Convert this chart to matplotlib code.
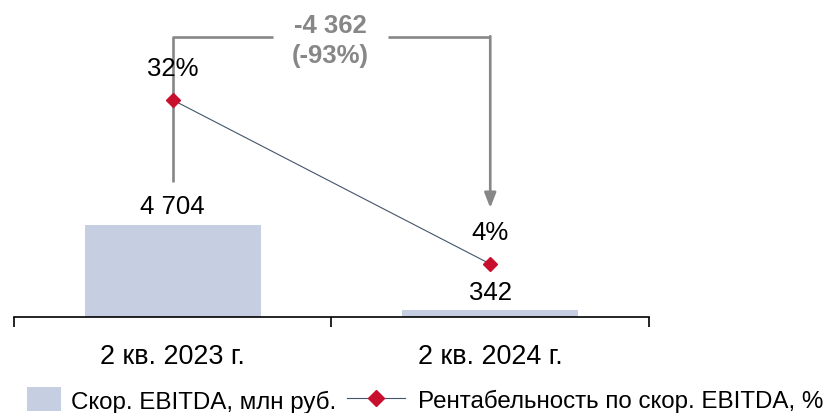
import matplotlib
matplotlib.use("Agg")
import matplotlib.pyplot as plt
import matplotlib.transforms as mtransforms
from matplotlib.patches import Patch
from matplotlib.lines import Line2D

plt.rcParams["font.family"] = ["Liberation Sans", "DejaVu Sans"]

# data
categories = ["2 кв. 2023 г.", "2 кв. 2024 г."]
ebitda = [4704, 342]          # млн руб.
margin = [32, 4]              # %
bar_label = "Скор. EBITDA, млн руб."
line_label = "Рентабельность по скор. EBITDA, %"

BAR_COLOR = "#C5CFE1"
LINE_COLOR = "#44546A"
MARK_COLOR = "#C8102E"
GRAY = "#878787"
FS = 18.5
FS_TICK = 19.4
FS_LEG = 17.4


def fmt_num(v):
  return f"{v:,}".replace(",", " ")


fig = plt.figure(figsize=(8.28, 4.14), dpi=100)
ax = fig.add_axes([14 / 828, 1 - 318 / 414, (649 - 14) / 828, 318 / 414])
x = list(range(len(categories)))

ax.bar(x, ebitda, width=0.555, color=BAR_COLOR, zorder=1)
ax.set_xlim(-0.5, len(categories) - 0.5)
ax.set_ylim(0, 16260)
for side in ("top", "right", "left"):
  ax.spines[side].set_visible(False)
ax.spines["bottom"].set_linewidth(1.2)
ax.set_yticks([])
ax.set_xticks(x)
ax.set_xticklabels(categories, fontsize=FS_TICK)
ax.tick_params(axis="x", which="major", length=0, pad=19)
ax.set_xticks([i - 0.5 for i in range(len(categories) + 1)], minor=True)
ax.tick_params(axis="x", which="minor", length=7, width=1.2, direction="out")

for xi, v in zip(x, ebitda):
  ax.annotate(fmt_num(v), (xi, v), xytext=(0, 13.5), textcoords="offset points",
              ha="center", va="center", fontsize=FS)

ax2 = ax.twinx()
ax2.set_ylim(-5.05, 49.24)
ax2.axis("off")
ax2.plot(x, margin, color=LINE_COLOR, lw=0.8, marker="D", markersize=7,
         markerfacecolor=MARK_COLOR, markeredgecolor=MARK_COLOR, zorder=3)
for xi, v in zip(x, margin):
  ax2.annotate(f"{v}%", (xi, v), xytext=(0, 23), textcoords="offset points",
               ha="center", va="center", fontsize=FS)

# change bracket between the two periods
trans = mtransforms.blended_transform_factory(ax.transData, ax.transAxes)
y_top = 0.88
diff = ebitda[1] - ebitda[0]
pct = round(diff / ebitda[0] * 100)
ax.plot([x[0], x[0], 0.316], [0.4245, y_top, y_top], transform=trans,
        color=GRAY, lw=1.9, clip_on=False, solid_capstyle="butt", zorder=2)
ax.plot([0.678, x[1]], [y_top, y_top], transform=trans,
        color=GRAY, lw=1.9, clip_on=False, solid_capstyle="butt", zorder=2)
ax.annotate("", xy=(x[1], 0.343), xytext=(x[1], y_top + 0.003),
            xycoords=trans, textcoords=trans,
            arrowprops=dict(arrowstyle="-|>,head_length=0.9,head_width=0.35",
                            color=GRAY, lw=1.9, shrinkA=0, shrinkB=0))
ax.text(0.497, 0.872, f"{fmt_num(diff)}\n({pct}%)",
        transform=trans, ha="center", va="center", fontsize=FS,
        fontweight="bold", color=GRAY, linespacing=1.3)

# legend: two pieces so the square and the line handle can differ in length
leg_y = 1 - 401 / 414
leg1 = fig.legend([Patch(facecolor=BAR_COLOR, edgecolor="none")], [bar_label],
                  loc="center left", bbox_to_anchor=(27 / 828, leg_y),
                  frameon=False, fontsize=FS_LEG, handlelength=1.4,
                  handleheight=1.15, handletextpad=0.41, borderpad=0,
                  borderaxespad=0)
line_handle = Line2D([0], [0], color=LINE_COLOR, lw=0.8, marker="D",
                     markersize=8, markerfacecolor=MARK_COLOR,
                     markeredgecolor=MARK_COLOR)
fig.legend([line_handle], [line_label], loc="center left",
           bbox_to_anchor=(347 / 828, leg_y), frameon=False,
           fontsize=FS_LEG, handlelength=2.4, handletextpad=0.54,
           borderpad=0, borderaxespad=0)

fig.savefig("out.png", dpi=100)
